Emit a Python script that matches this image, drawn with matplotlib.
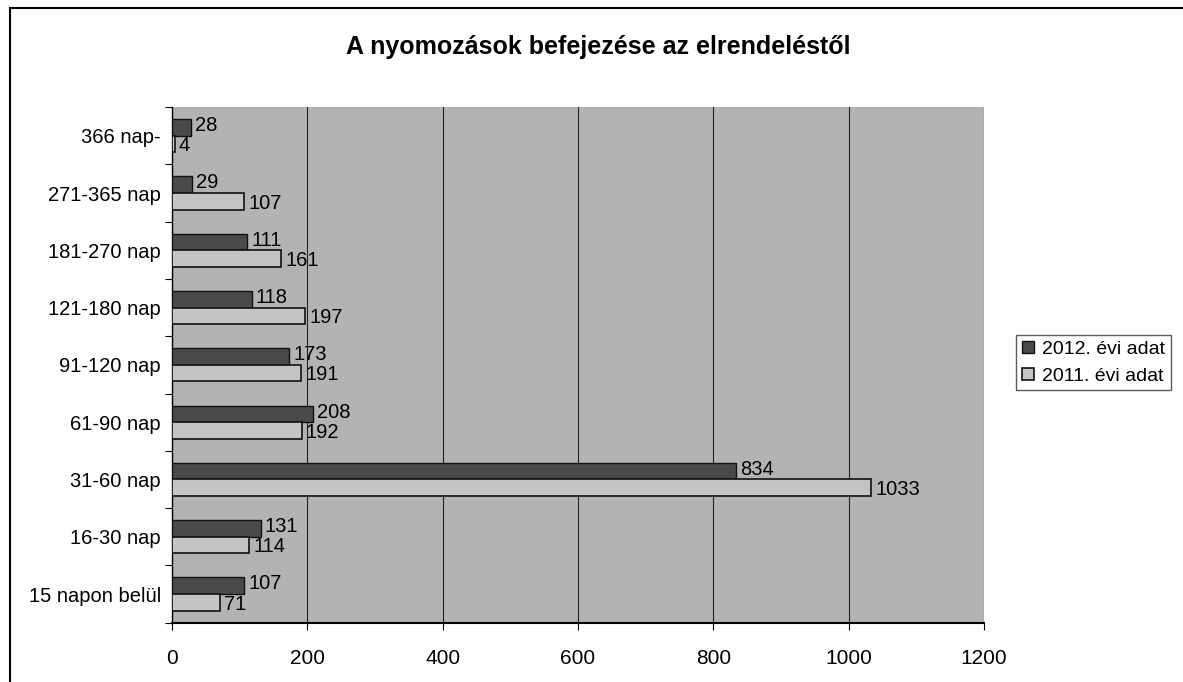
import matplotlib.pyplot as plt
import numpy as np

categories = ["15 napon belül", "16-30 nap", "31-60 nap", "61-90 nap", "91-120 nap",
              "121-180 nap", "181-270 nap", "271-365 nap", "366 nap-"]
y2012 = [107, 131, 834, 208, 173, 118, 111, 29, 28]
y2011 = [71, 114, 1033, 192, 191, 197, 161, 107, 4]

plt.rcParams['font.family'] = ['Liberation Sans', 'DejaVu Sans']

fig = plt.figure(figsize=(11.83, 6.82), dpi=100)
ax = fig.add_axes([0.1454, 0.087, 0.6864, 0.756])

y = np.arange(len(categories))
h = 0.29
b1 = ax.barh(y + h/2, y2012, height=h, color="#4a4a4a", edgecolor="#111111", linewidth=1, label="2012. évi adat", zorder=3)
b2 = ax.barh(y - h/2, y2011, height=h, color="#c4c4c4", edgecolor="#111111", linewidth=1.2, label="2011. évi adat", zorder=3)

for r, v in zip(b1, y2012):
    ax.text(v + 6, r.get_y() + r.get_height()/2 + 0.03, str(v), va="center", ha="left", fontsize=14.5, zorder=4)
for r, v in zip(b2, y2011):
    ax.text(v + 6, r.get_y() + r.get_height()/2 - 0.03, str(v), va="center", ha="left", fontsize=14.5, zorder=4)

ax.set_facecolor("#b3b3b3")
ax.set_xlim(0, 1200)
ax.set_ylim(-0.5, len(categories) - 0.5)
ax.set_xticks(np.arange(0, 1201, 200))
ax.set_yticks(np.arange(len(categories) + 1) - 0.5, minor=False)
ax.set_yticklabels([])
ax.set_yticks(y, minor=True)
ax.set_yticklabels(categories, minor=True, fontsize=14.5)
ax.tick_params(axis="y", which="minor", length=0, pad=8)
ax.tick_params(axis="y", which="major", length=5, direction="out")
ax.tick_params(axis="x", labelsize=15, pad=14, length=5)
ax.grid(axis="x", color="#222222", linewidth=0.8, zorder=1)
for s in ["top", "right"]:
    ax.spines[s].set_visible(False)
ax.spines["left"].set_linewidth(1.0)
ax.spines["bottom"].set_linewidth(1.5)

fig.text(0.506, 0.931, "A nyomozások befejezése az elrendeléstől", ha="center", va="center",
         fontsize=18, fontweight="bold")

leg = fig.legend(loc="upper left", bbox_to_anchor=(0.851, 0.523), fontsize=14, frameon=True,
                 fancybox=False, edgecolor="#333333", handlelength=0.6, handleheight=0.6,
                 handletextpad=0.4, borderpad=0.3, labelspacing=0.5)

# outer frame of the scanned chart
fig.add_artist(plt.Line2D([10/1183, 10/1183], [0, 1 - 8/682], transform=fig.transFigure, color="black", lw=1.5))
fig.add_artist(plt.Line2D([10/1183, 1], [1 - 8/682, 1 - 8/682], transform=fig.transFigure, color="black", lw=1.5))

fig.savefig("out.png", dpi=100)
